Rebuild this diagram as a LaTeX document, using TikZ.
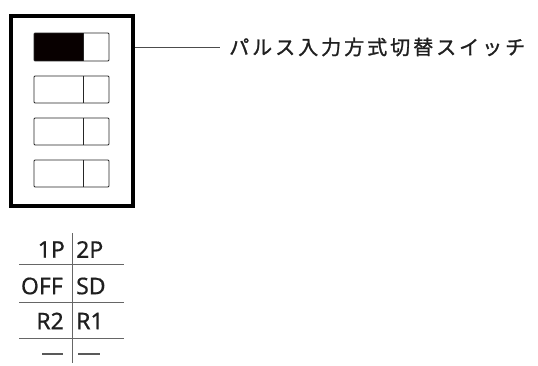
\documentclass[tikz,border=0pt]{standalone}
\usepackage{fontspec}
\setmainfont{Noto Sans}[FakeBold=0.6]
\newfontfamily\jpfont{Noto Sans CJK JP}[FakeBold=1.2]
\begin{document}
\begin{tikzpicture}[x=1pt,y=-1pt,
  outerbox/.style={draw=black,line width=3.6pt},
  swbox/.style={draw=black!85,line width=0.9pt,rounded corners=1pt},
  leader/.style={draw=black!70,line width=0.9pt},
  grid/.style={draw=black!60,line width=1pt},
  cell/.style={inner sep=0pt,font=\fontsize{23}{25}\selectfont,text=black!88},
  dashmark/.style={draw=black!65,line width=2pt}]
\useasboundingbox (0,0) rectangle (538,365);
% outer box
\node[outerbox,minimum width=122pt,minimum height=190pt,inner sep=0pt] (box) at (72,111) {};
% switches
\foreach \i/\ya/\yb in {1/33/61,2/76/103,3/118/145,4/160/187}{
  \coordinate (s\i a) at (34,\ya);
  \coordinate (s\i b) at (109,\yb);
  \coordinate (d\i a) at (83,\ya);
  \coordinate (d\i b) at (83,\yb);
}
\fill[black!90!red!30!black] (s1a) rectangle (d1b);
\foreach \i in {1,2,3,4}{
  \draw[swbox] (s\i a) rectangle (s\i b);
  \draw[draw=black!85,line width=0.9pt] (d\i a) -- (d\i b);
}
% leader and label
\node[anchor=west,inner sep=0pt,text=black!88] (label) at (229,47)
  {\jpfont\addfontfeature{LetterSpace=15}\fontsize{20}{22}\selectfont パルス入力方式切替スイッチ};
\coordinate (lend) at (220,47);
\draw[leader] (box.east |- lend) -- (lend);
% table
\coordinate (vt) at (72,233);
\coordinate (vb) at (72,363);
\draw[grid] (vt) -- (vb);
\foreach \y/\n in {264/1,302/2,338/3}{
  \coordinate (hl\n) at (19,\y);
  \coordinate (hr\n) at (124,\y);
  \draw[grid] (hl\n) -- (hr\n);
}
\node[cell,anchor=east] (l1) at (65,249.5) {1P};
\node[cell,anchor=west] (r1) at (76,249.5) {2P};
\node[cell,anchor=east] (l2) at (63,286) {OFF};
\node[cell,anchor=west] (r2) at (76,286) {SD};
\node[cell,anchor=east] (l3) at (64,321) {R2};
\node[cell,anchor=west] (r3) at (76,321) {R1};
\coordinate (la) at (42,354); \coordinate (lb) at (63,354);
\coordinate (ra) at (78,354); \coordinate (rb) at (100,354);
\draw[dashmark] (la) -- (lb);
\draw[dashmark] (ra) -- (rb);
\end{tikzpicture}
\end{document}
